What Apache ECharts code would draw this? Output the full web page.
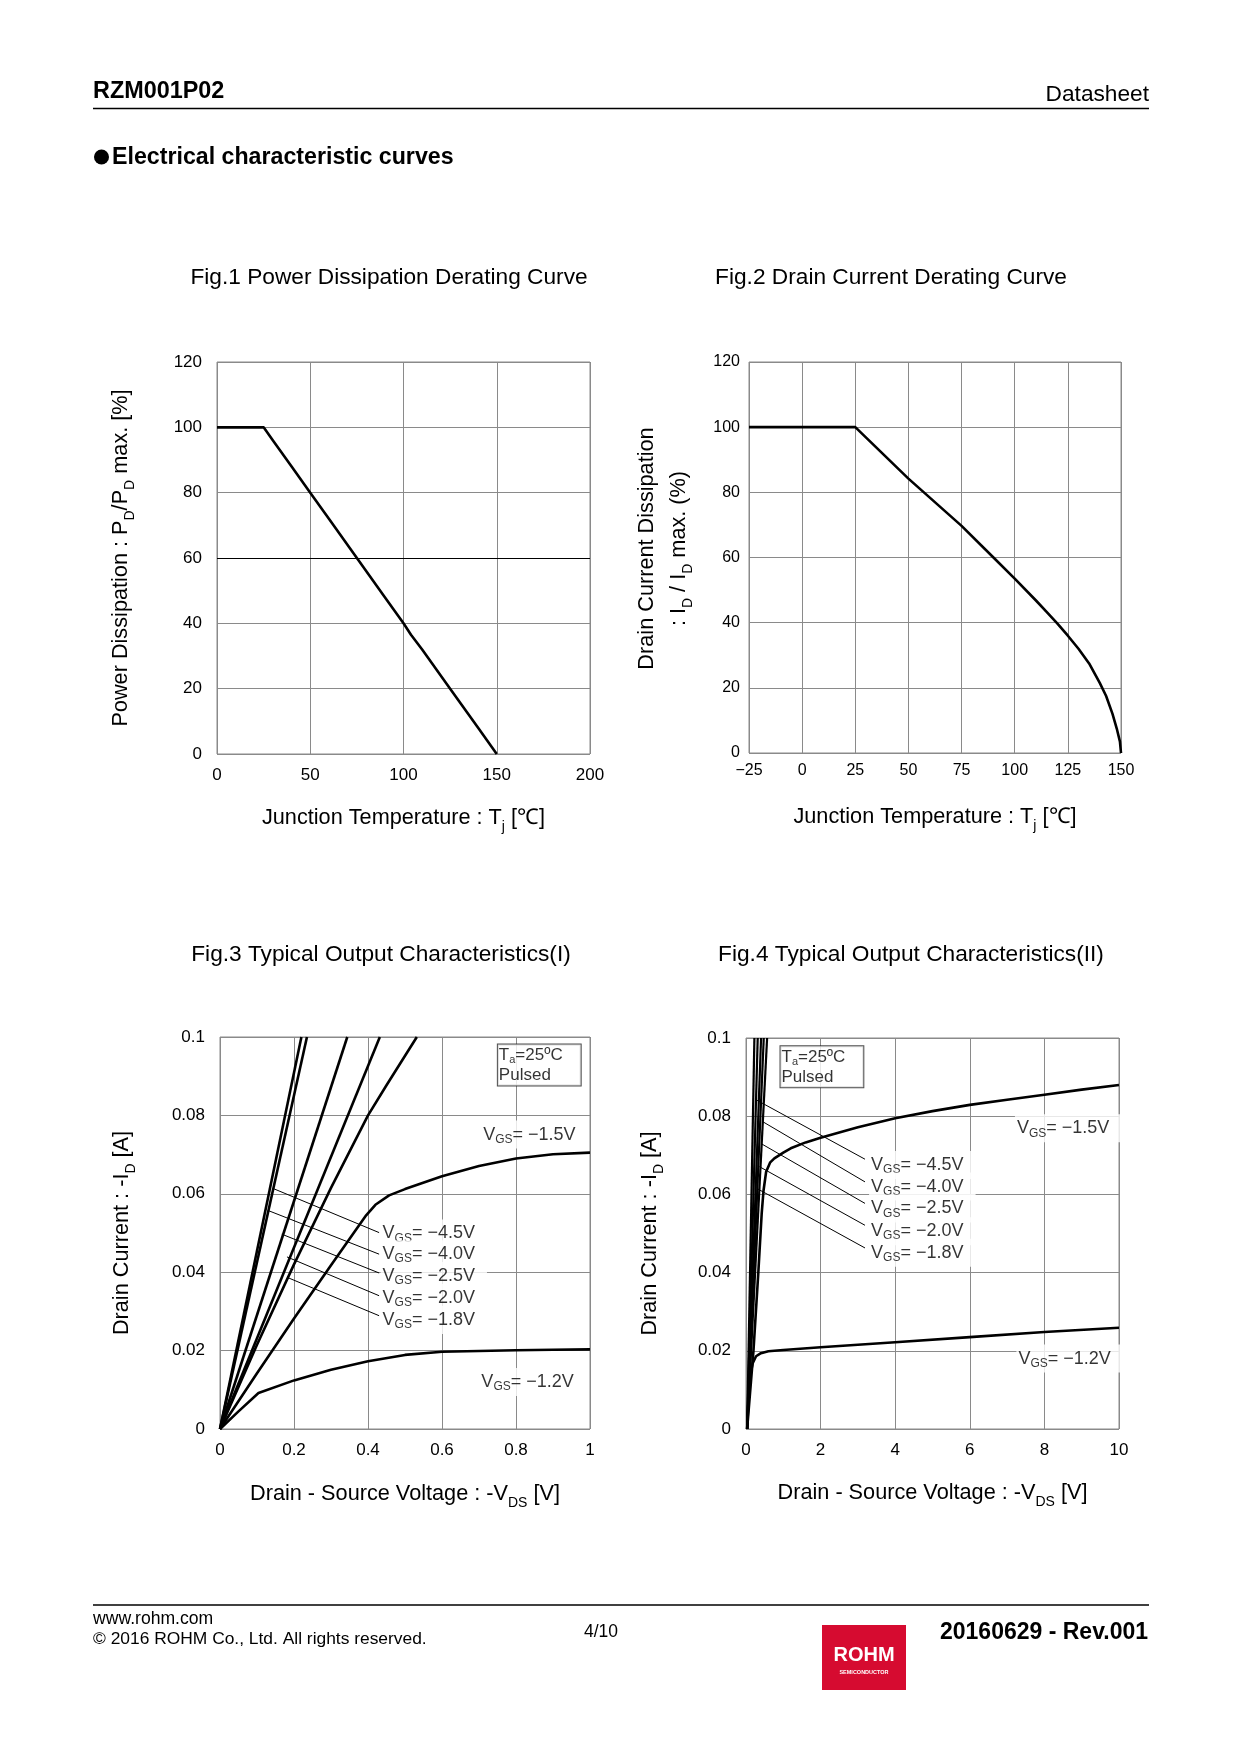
<!DOCTYPE html>
<html><head><meta charset="utf-8">
<script src="https://cdn.jsdelivr.net/npm/echarts@6/dist/echarts.min.js"></script>
<style>html,body{margin:0;padding:0;background:#fff}#c{width:1240px;height:1754px}</style>
</head><body><div id="c"></div>
<script>
const FONT = '"Liberation Sans", Arial, Helvetica, sans-serif';

// ---------- Fig.1 Power Dissipation Derating ----------
const fig1Temp = [0, 25, 30, 40, 50, 60, 75, 90, 100, 104, 110, 125, 130, 140, 150];
const fig1Pd   = [100, 100, 96, 88, 80, 72, 60, 48, 40, 36.5, 32, 20, 16, 8, 0];

// ---------- Fig.2 Drain Current Derating ----------
const fig2Temp = [-25, 25, 50, 75, 90, 100, 110, 115, 120, 125, 130, 135, 140, 143, 146, 148, 149.5, 150];
const fig2Id   = [100, 100, 84.2, 69.7, 60, 53.5, 46.8, 43.3, 39.8, 36, 32, 27.5, 21.5, 17.5, 12, 7.5, 3.5, 0];

// ---------- Fig.3 Typical Output Characteristics (I) ----------
const fig3Vgs45 = [[0, 0], [0.22, 0.1]];
const fig3Vgs40 = [[0, 0], [0.235, 0.1]];
const fig3Vgs25 = [[0, 0], [0.344, 0.1]];
const fig3Vgs20 = [[0, 0], [0.432, 0.1]];
const fig3Vgs18 = [[0, 0], [0.1, 0.0215], [0.2, 0.042], [0.3, 0.0615], [0.4, 0.08], [0.45, 0.0877], [0.532, 0.1]];
const fig3Vgs15 = [[0, 0], [0.1, 0.0142], [0.2, 0.0282], [0.3, 0.0418], [0.395, 0.0545], [0.42, 0.0572], [0.457, 0.0596],
  [0.5, 0.0612], [0.6, 0.0645], [0.7, 0.0671], [0.8, 0.069], [0.9, 0.0701], [1.0, 0.0705]];
const fig3Vgs12 = [[0, 0], [0.05, 0.0045], [0.104, 0.0092], [0.2, 0.0124], [0.3, 0.0151], [0.4, 0.0173], [0.5, 0.0189],
  [0.6, 0.0197], [0.7, 0.0199], [0.8, 0.0201], [0.9, 0.0202], [1.0, 0.0203]];
const fig3Leaders = [
  [[0.145, 0.0613], [0.43, 0.0501]],
  [[0.131, 0.0557], [0.43, 0.0446]],
  [[0.167, 0.0497], [0.43, 0.0398]],
  [[0.181, 0.0439], [0.43, 0.034]],
  [[0.181, 0.0387], [0.43, 0.0289]]
];
const fig3LabelPos = [[0.434, 0.0499], [0.434, 0.0446], [0.434, 0.039], [0.434, 0.0334], [0.434, 0.0278], [0.706, 0.0751], [0.701, 0.012]];
const fig3NotePos = [0.751, 0.0981];

// ---------- Fig.4 Typical Output Characteristics (II) ----------
const fig4Vgs45 = [[0.03, 0], [0.225, 0.1]];
const fig4Vgs40 = [[0.03, 0], [0.314, 0.1]];
const fig4Vgs25 = [[0.03, 0], [0.404, 0.1]];
const fig4Vgs20 = [[0.03, 0], [0.476, 0.1]];
const fig4Vgs18 = [[0.03, 0], [0.566, 0.1]];
const fig4Vgs15 = [[0.03, 0], [0.2, 0.02], [0.33, 0.04], [0.42, 0.055], [0.47, 0.061], [0.54, 0.0658], [0.65, 0.0682],
  [0.76, 0.0692], [1.0, 0.0707], [1.2, 0.0718], [1.6, 0.0733], [2, 0.0745], [3, 0.0772], [4, 0.0795], [5, 0.0813],
  [6, 0.0829], [7, 0.0842], [8, 0.0855], [9, 0.0868], [10, 0.088]];
const fig4Vgs12 = [[0.03, 0], [0.06, 0.006], [0.09, 0.0105], [0.13, 0.0145], [0.18, 0.0168], [0.27, 0.0186], [0.4, 0.0194],
  [0.6, 0.0199], [1, 0.0202], [2, 0.0209], [4, 0.0222], [6, 0.0235], [8, 0.0248], [10, 0.0259]];
const fig4Leaders = [
  [[0.27, 0.0842], [3.19, 0.069]],
  [[0.449, 0.0786], [3.19, 0.0632]],
  [[0.422, 0.0729], [3.19, 0.0577]],
  [[0.359, 0.0671], [3.19, 0.0521]],
  [[0.314, 0.0614], [3.19, 0.0463]]
];
const fig4LabelPos = [[3.3, 0.0675], [3.3, 0.062], [3.3, 0.0564], [3.3, 0.0506], [3.3, 0.0451], [7.21, 0.0769], [7.25, 0.018]];
const fig4NotePos = [0.925, 0.0979];

const vgsNames = ['\u22124.5V', '\u22124.0V', '\u22122.5V', '\u22122.0V', '\u22121.8V', '\u22121.5V', '\u22121.2V'];

// ---------- axes ticks ----------
const fig1XTicks = [0, 200, 50], fig1YTicks = [0, 120, 20];
const fig2XTicks = [-25, 150, 25], fig2YTicks = [0, 120, 20];
const fig3XTicks = [0, 1, 0.2], fig3YTicks = [0, 0.1, 0.02];
const fig4XTicks = [0, 10, 2], fig4YTicks = [0, 0.1, 0.02];

// ---------- helpers ----------
const GRID_C = '#8a8a8a';
const NAME_FS = 21.7;
const subRich = {
  n: { fontSize: NAME_FS, lineHeight: 32, fontFamily: FONT, color: '#000' },
  s: { fontSize: 14, lineHeight: 14, fontFamily: FONT, color: '#000', verticalAlign: 'bottom' }
};
function axis(gi, t, name, gap, isY, fmt) {
  return {
    type: 'value', gridIndex: gi, min: t[0], max: t[1], interval: t[2],
    name: name, nameLocation: 'middle', nameGap: gap, nameRotate: isY ? 90 : 0,
    nameTextStyle: { fontSize: NAME_FS, fontFamily: FONT, color: '#000', rich: subRich },
    axisLine: { show: false }, axisTick: { show: false },
    splitLine: { show: true, lineStyle: { color: GRID_C, width: 1 } },
    axisLabel: { color: '#000', fontSize: 17, fontFamily: FONT, margin: isY ? 15 : 13, formatter: fmt }
  };
}
function curve(gi, data, w) {
  return { type: 'line', xAxisIndex: gi, yAxisIndex: gi, data: data, symbol: 'none', showSymbol: false,
    silent: true, lineStyle: { color: '#000', width: w || 2.6 }, z: 3 };
}
function leader(gi, data) {
  return { type: 'line', xAxisIndex: gi, yAxisIndex: gi, data: data, symbol: 'none', showSymbol: false,
    silent: true, lineStyle: { color: '#000', width: 1 }, z: 4 };
}
const labRich = {
  v: { fontSize: 18, lineHeight: 22, fontFamily: FONT, color: '#000' },
  s: { fontSize: 12, lineHeight: 12, fontFamily: FONT, color: '#000', verticalAlign: 'bottom' }
};
function vgsLabels(gi, pos) {
  return { type: 'scatter', xAxisIndex: gi, yAxisIndex: gi, symbolSize: 0, silent: true, z: 5,
    data: pos.map((p, i) => ({ value: p, name: vgsNames[i] })),
    label: { show: true, position: 'right', distance: 0, backgroundColor: '#fff', padding: [3, 12, 3, 2],
      formatter: p => '{v|V}{s|GS}{v|= ' + p.name + '}', rich: labRich } };
}
function note(gi, pos) {
  return { type: 'scatter', xAxisIndex: gi, yAxisIndex: gi, symbolSize: 0, silent: true, z: 5,
    data: [pos],
    label: { show: true, position: [0, 0], align: 'left', verticalAlign: 'top', backgroundColor: '#fff',
      borderColor: '#222', borderWidth: 1, padding: [1, 18, 0, 1],
      formatter: '{v|T}{s|a}{v|=25\u00baC}\n{v|Pulsed}',
      rich: { v: { fontSize: 17, lineHeight: 20, fontFamily: FONT, color: '#000' },
              s: { fontSize: 11, lineHeight: 11, fontFamily: FONT, color: '#000', verticalAlign: 'bottom' } } } };
}
const minusFmt = v => (v < 0 ? '\u2212' + (-v) : String(v));

const chart = echarts.init(document.getElementById('c'), null, { renderer: 'canvas', width: 1240, height: 1754 });

const grids = [
  { left: 217, top: 362, width: 373, height: 392 },
  { left: 749, top: 362, width: 372, height: 391 },
  { left: 220, top: 1037, width: 370, height: 392 },
  { left: 746, top: 1038, width: 373, height: 391 }
].map(g => Object.assign({ show: true, borderColor: GRID_C, borderWidth: 1, containLabel: false, outerBoundsMode: 'none' }, g));

const tempName = '{n|Junction Temperature : T}{s|j}{n| [\u2103]}';
const vdsName = '{n|Drain - Source Voltage : -V}{s|DS}{n| [V]}';
const idName = '{n|Drain Current : -I}{s|D}{n| [A]}';

const series = [
  Object.assign(curve(0, fig1Temp.map((t, i) => [t, fig1Pd[i]])), {
    markLine: { silent: true, symbol: 'none', label: { show: false },
      lineStyle: { color: '#000', type: 'solid', width: 1.2 }, data: [{ yAxis: 60 }] }, z: 3 }),
  curve(1, fig2Temp.map((t, i) => [t, fig2Id[i]])),
  curve(2, fig3Vgs45), curve(2, fig3Vgs40), curve(2, fig3Vgs25), curve(2, fig3Vgs20), curve(2, fig3Vgs18),
  curve(2, fig3Vgs15), curve(2, fig3Vgs12),
  ...fig3Leaders.map(d => leader(2, d)),
  vgsLabels(2, fig3LabelPos), note(2, fig3NotePos),
  curve(3, fig4Vgs45, 2.2), curve(3, fig4Vgs40, 2.2), curve(3, fig4Vgs25, 2.2), curve(3, fig4Vgs20, 2.2), curve(3, fig4Vgs18, 2.2),
  curve(3, fig4Vgs15), curve(3, fig4Vgs12),
  ...fig4Leaders.map(d => leader(3, d)),
  vgsLabels(3, fig4LabelPos), note(3, fig4NotePos)
];

function txt(x, y, text, font, align) {
  return { type: 'text', x: x, y: y, silent: true,
    style: { text: text, font: font, fill: '#000', textAlign: align || 'left', align: align || 'left',
      textVerticalAlign: 'middle', verticalAlign: 'middle' } };
}

const graphic = [
  txt(93, 92, 'RZM001P02', 'bold 23.4px ' + FONT),
  txt(1149, 95, 'Datasheet', '22.7px ' + FONT, 'right'),
  { type: 'line', silent: true, shape: { x1: 93, y1: 108.5, x2: 1149, y2: 108.5 }, style: { stroke: '#000', lineWidth: 1.5 } },
  { type: 'circle', silent: true, shape: { cx: 101.5, cy: 157, r: 7.5 }, style: { fill: '#000' } },
  txt(112, 158, 'Electrical characteristic curves', 'bold 23.2px ' + FONT),
  txt(389, 278, 'Fig.1 Power Dissipation Derating Curve', '22.7px ' + FONT, 'center'),
  txt(891, 278, 'Fig.2 Drain Current Derating Curve', '22.7px ' + FONT, 'center'),
  txt(381, 955, 'Fig.3 Typical Output Characteristics(I)', '22.7px ' + FONT, 'center'),
  txt(911, 955, 'Fig.4 Typical Output Characteristics(II)', '22.7px ' + FONT, 'center'),
  { type: 'line', silent: true, shape: { x1: 93, y1: 1605, x2: 1149, y2: 1605 }, style: { stroke: '#000', lineWidth: 1.5 } },
  txt(93, 1619, 'www.rohm.com', '17.6px ' + FONT),
  txt(93, 1639, '\u00A9 2016 ROHM Co., Ltd. All rights reserved.', '17.4px ' + FONT),
  txt(601, 1632, '4/10', '17.5px ' + FONT, 'center'),
  txt(1148, 1633, '20160629 - Rev.001', 'bold 23px ' + FONT, 'right'),
  { type: 'rect', silent: true, shape: { x: 822, y: 1625, width: 84, height: 65 }, style: { fill: '#d60b30' } },
  { type: 'text', x: 864, y: 1655, silent: true,
    style: { text: 'ROHM', font: 'bold 20px ' + FONT, fill: '#fff', textAlign: 'center', align: 'center', textVerticalAlign: 'middle', verticalAlign: 'middle' } },
  { type: 'text', x: 864, y: 1672, silent: true,
    style: { text: 'SEMICONDUCTOR', font: 'bold 5.5px ' + FONT, fill: '#fff', textAlign: 'center', align: 'center', textVerticalAlign: 'middle', verticalAlign: 'middle' } }
];

const fig2YAxis = axis(1, fig2YTicks, '{n|Drain Current Dissipation}\n{n|: I}{s|D}{n| / I}{s|D}{n| max. (%)}', 54, true);
fig2YAxis.axisLabel = { color: '#000', fontSize: 16, fontFamily: FONT, margin: 9 };
fig2YAxis.nameTextStyle = Object.assign({}, fig2YAxis.nameTextStyle, { padding: [0, 0, 0, 18] });

chart.setOption({
  animation: false,
  backgroundColor: '#fff',
  grid: grids,
  xAxis: [
    axis(0, fig1XTicks, tempName, 48, false),
    Object.assign(axis(1, fig2XTicks, tempName, 48, false, minusFmt), { axisLabel: { color: '#000', fontSize: 16, fontFamily: FONT, margin: 10, formatter: minusFmt } }),
    axis(2, fig3XTicks, vdsName, 49, false),
    axis(3, fig4XTicks, vdsName, 48, false)
  ],
  yAxis: [
    axis(0, fig1YTicks, '{n|Power Dissipation : P}{s|D}{n|/P}{s|D}{n| max. [%]}', 80, true),
    fig2YAxis,
    axis(2, fig3YTicks, idName, 82, true),
    axis(3, fig4YTicks, idName, 80, true)
  ],
  graphic: graphic,
  series: series
});
</script></body></html>
